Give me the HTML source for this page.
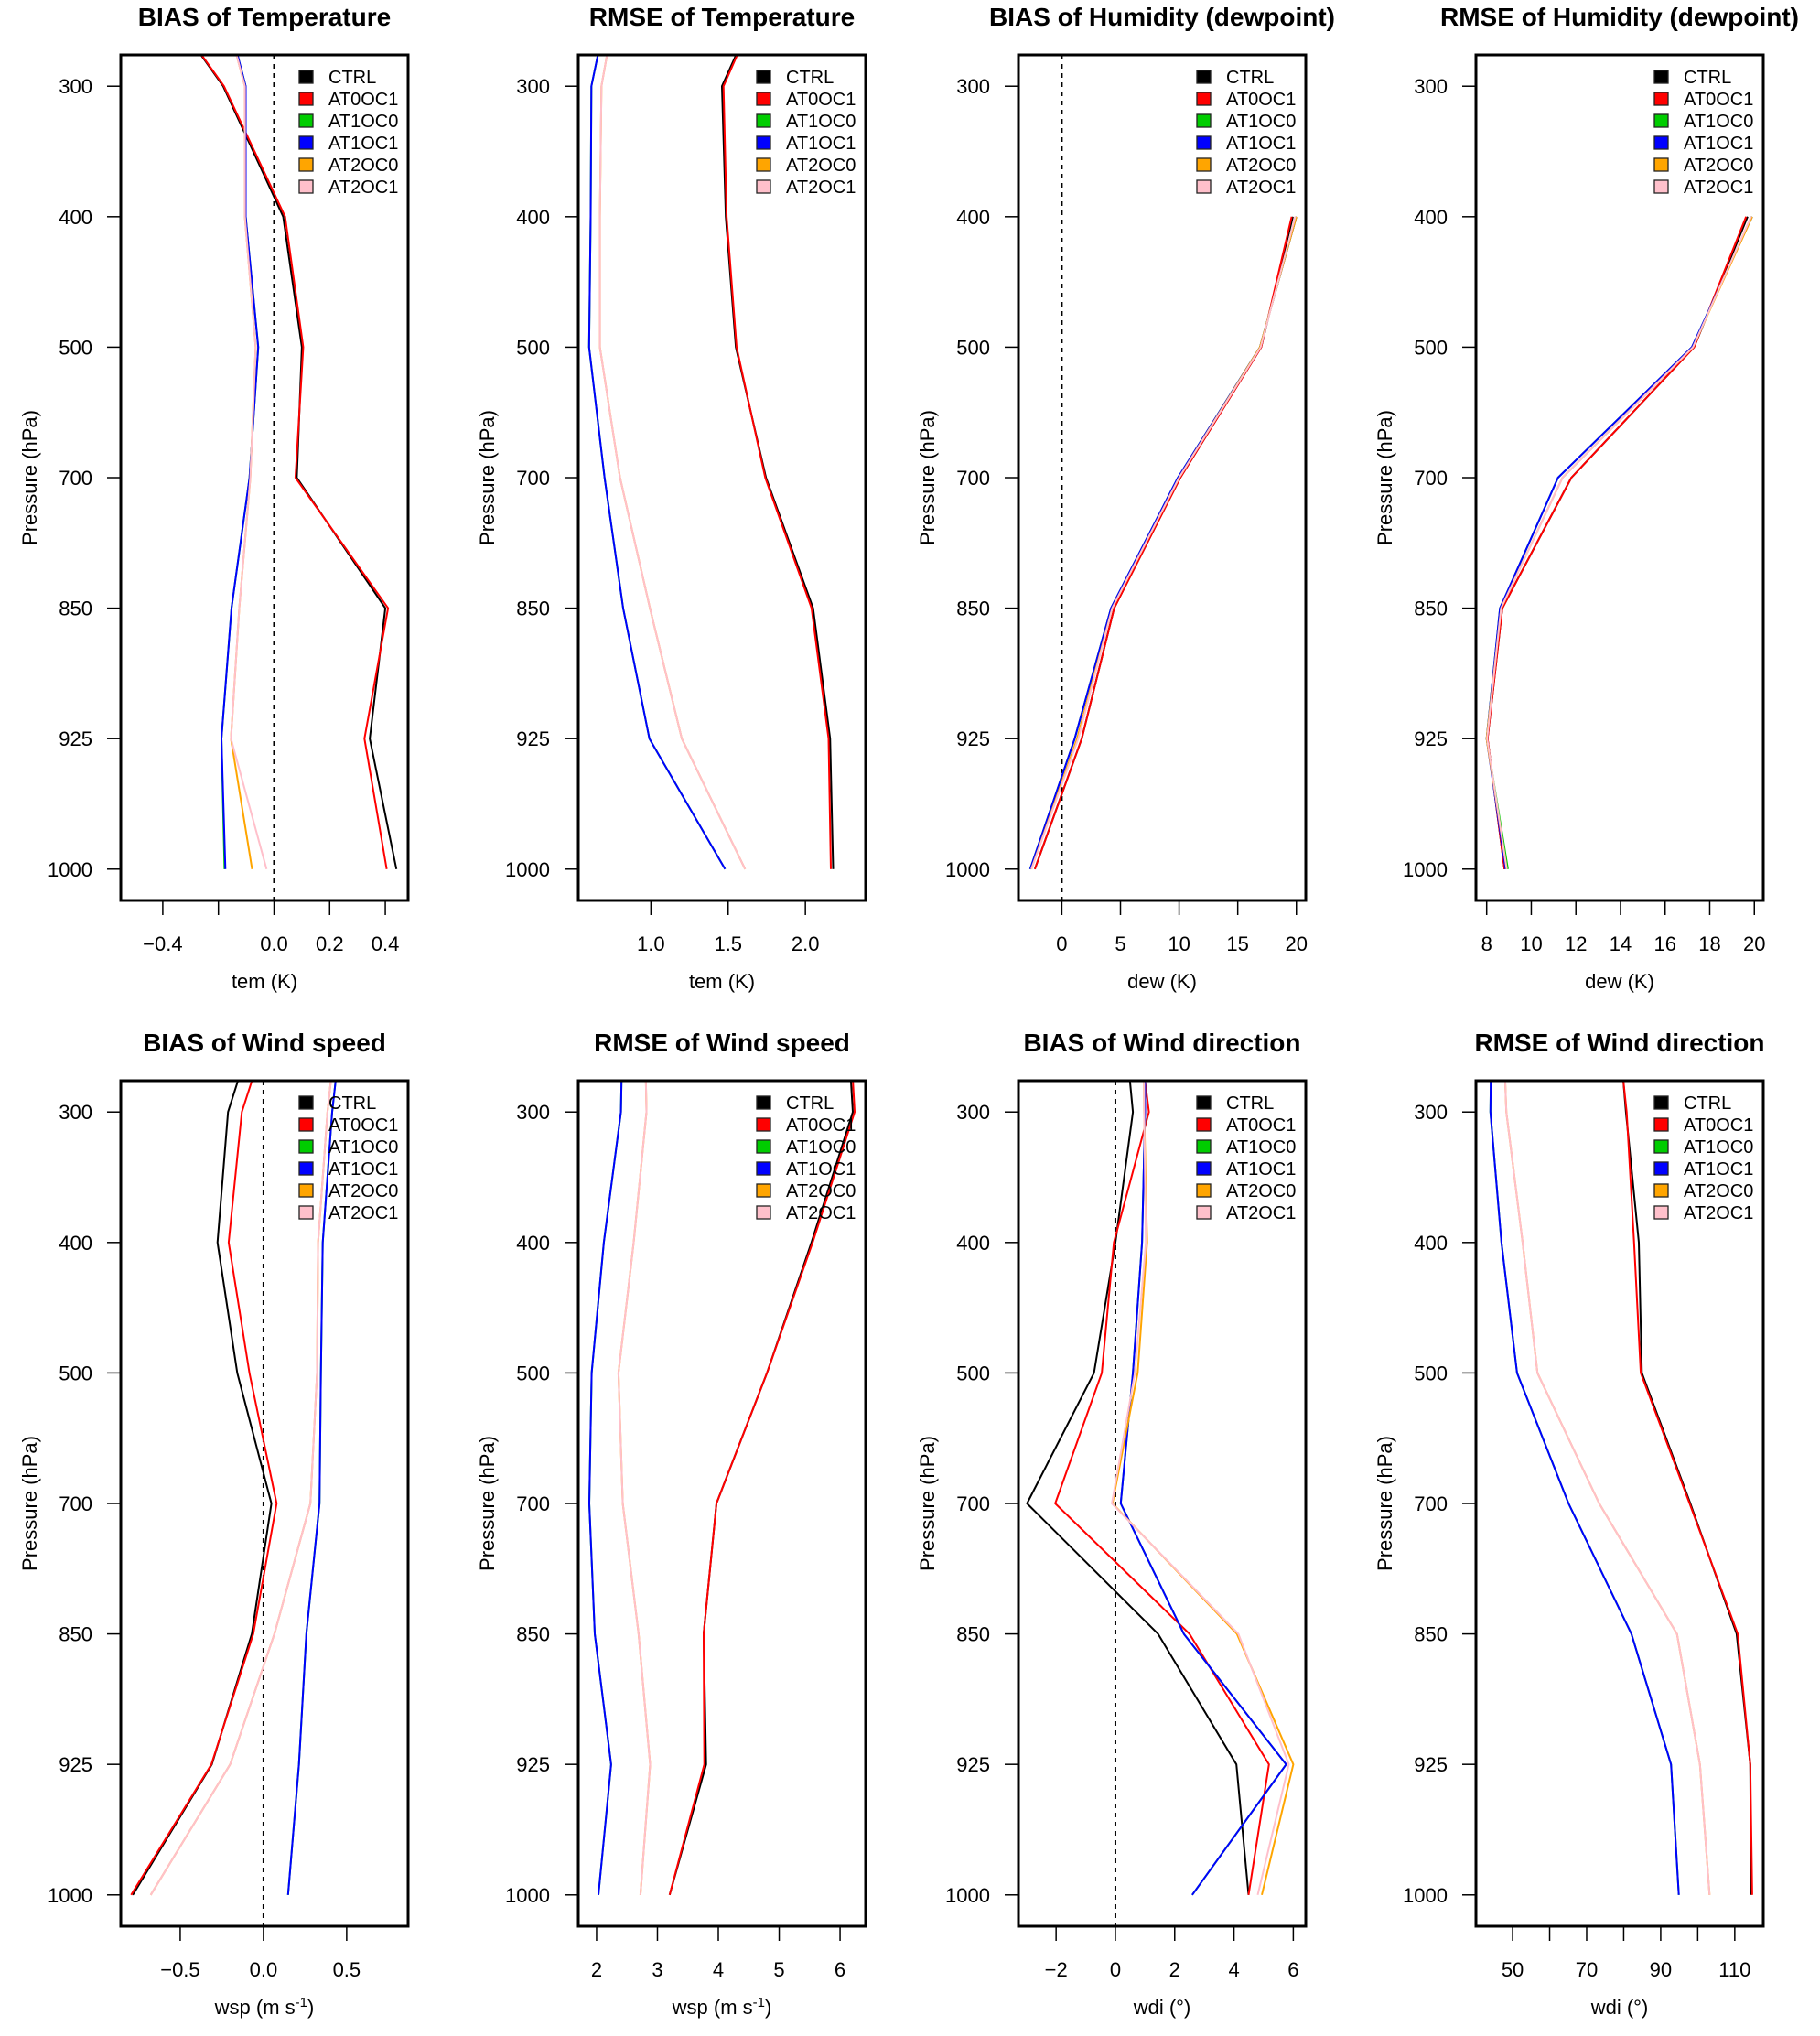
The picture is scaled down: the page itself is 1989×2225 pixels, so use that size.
<!DOCTYPE html>
<html><head><meta charset="utf-8"><title>Verification profiles</title>
<style>
html,body{margin:0;padding:0;background:#fff;}
svg{display:block;font-family:"Liberation Sans",sans-serif;}
</style></head>
<body>
<svg id="chart" width="1989" height="2225" viewBox="0 0 1989 2225" xmlns="http://www.w3.org/2000/svg"></svg>
<script>
// ---- shared data ----
const levels = [250, 300, 400, 500, 700, 850, 925, 1000];
const levelLabels = ["300", "400", "500", "700", "850", "925", "1000"];
const seriesNames = ["CTRL", "AT0OC1", "AT1OC0", "AT1OC1", "AT2OC0", "AT2OC1"];
const seriesColors = ["#000000", "#ff0000", "#00cd00", "#0000ff", "#ffa500", "#ffc0cb"];

// ---- BIAS of Temperature ----
const tBiasCTRL   = [-0.516, -0.183, 0.033, 0.100, 0.082, 0.400, 0.344, 0.440];
const tBiasAT0OC1 = [-0.516, -0.180, 0.040, 0.105, 0.077, 0.410, 0.325, 0.405];
const tBiasAT1OC0 = [-0.224, -0.102, -0.102, -0.057, -0.088, -0.153, -0.189, -0.178];
const tBiasAT1OC1 = [-0.224, -0.102, -0.102, -0.057, -0.088, -0.153, -0.189, -0.175];
const tBiasAT2OC0 = [-0.230, -0.105, -0.105, -0.066, -0.085, -0.125, -0.155, -0.079];
const tBiasAT2OC1 = [-0.230, -0.105, -0.105, -0.066, -0.085, -0.125, -0.155, -0.027];
const tBiasTicks = [-0.4, -0.2, 0.0, 0.2, 0.4];
const tBiasTickLabels = ["\u22120.4", "", "0.0", "0.2", "0.4"];

// ---- RMSE of Temperature ----
const tRmseCTRL   = [1.84, 1.46, 1.485, 1.55, 1.745, 2.05, 2.16, 2.18];
const tRmseAT0OC1 = [1.84, 1.47, 1.49, 1.555, 1.74, 2.04, 2.15, 2.165];
const tRmseAT1OC0 = [0.79, 0.615, 0.61, 0.60, 0.70, 0.82, 0.99, 1.48];
const tRmseAT1OC1 = [0.79, 0.615, 0.61, 0.60, 0.70, 0.82, 0.99, 1.48];
const tRmseAT2OC0 = [0.83, 0.68, 0.67, 0.67, 0.80, 0.994, 1.20, 1.61];
const tRmseAT2OC1 = [0.83, 0.68, 0.67, 0.67, 0.80, 0.994, 1.20, 1.61];
const tRmseTicks = [1.0, 1.5, 2.0];
const tRmseTickLabels = ["1.0", "1.5", "2.0"];

// ---- BIAS of Humidity ----
const dBiasCTRL   = [null, null, 19.7, 17.0, 10.1, 4.46, 1.7, -2.3];
const dBiasAT0OC1 = [null, null, 19.6, 17.0, 10.1, 4.46, 1.7, -2.3];
const dBiasAT1OC0 = [null, null, 20.0, 16.9, 9.9, 4.2, 1.1, -2.7];
const dBiasAT1OC1 = [null, null, 20.0, 16.9, 9.9, 4.2, 1.1, -2.7];
const dBiasAT2OC0 = [null, null, 20.0, 16.9, 10.0, 4.3, 1.3, -2.6];
const dBiasAT2OC1 = [null, null, 19.9, 16.95, 10.0, 4.3, 1.4, -2.6];
const dBiasTicks = [0, 5, 10, 15, 20];
const dBiasTickLabels = ["0", "5", "10", "15", "20"];

// ---- RMSE of Humidity ----
const dRmseCTRL   = [null, null, 19.7, 17.3, 11.8, 8.7, 8.04, 8.8];
const dRmseAT0OC1 = [null, null, 19.63, 17.3, 11.8, 8.7, 8.04, 8.8];
const dRmseAT1OC0 = [null, null, 19.9, 17.2, 11.2, 8.6, 8.0, 8.95];
const dRmseAT1OC1 = [null, null, 19.9, 17.2, 11.2, 8.6, 8.0, 8.85];
const dRmseAT2OC0 = [null, null, 19.9, 17.25, 11.4, 8.65, 8.0, 8.9];
const dRmseAT2OC1 = [null, null, 19.85, 17.25, 11.4, 8.65, 8.02, 8.9];
const dRmseTicks = [8, 10, 12, 14, 16, 18, 20];
const dRmseTickLabels = ["8", "10", "12", "14", "16", "18", "20"];

// ---- BIAS of Wind speed ----
const wBiasCTRL   = [0.036, -0.213, -0.276, -0.157, 0.048, -0.070, -0.310, -0.785];
const wBiasAT0OC1 = [0.123, -0.130, -0.209, -0.084, 0.079, -0.061, -0.313, -0.795];
const wBiasAT1OC0 = [0.50, 0.413, 0.356, 0.345, 0.337, 0.258, 0.213, 0.148];
const wBiasAT1OC1 = [0.50, 0.413, 0.356, 0.345, 0.337, 0.258, 0.213, 0.148];
const wBiasAT2OC0 = [0.47, 0.385, 0.328, 0.322, 0.282, 0.066, -0.200, -0.677];
const wBiasAT2OC1 = [0.47, 0.385, 0.328, 0.322, 0.282, 0.066, -0.200, -0.677];
const wBiasTicks = [-0.5, 0.0, 0.5];
const wBiasTickLabels = ["\u22120.5", "0.0", "0.5"];

// ---- RMSE of Wind speed ----
const wRmseCTRL   = [6.08, 6.21, 5.53, 4.80, 3.97, 3.76, 3.80, 3.20];
const wRmseAT0OC1 = [6.12, 6.24, 5.55, 4.80, 3.97, 3.76, 3.77, 3.20];
const wRmseAT1OC0 = [2.44, 2.40, 2.12, 1.92, 1.88, 1.97, 2.24, 2.03];
const wRmseAT1OC1 = [2.44, 2.40, 2.12, 1.92, 1.88, 1.97, 2.24, 2.03];
const wRmseAT2OC0 = [2.78, 2.82, 2.61, 2.36, 2.43, 2.69, 2.88, 2.72];
const wRmseAT2OC1 = [2.78, 2.82, 2.61, 2.36, 2.43, 2.69, 2.88, 2.72];
const wRmseTicks = [2, 3, 4, 5, 6];
const wRmseTickLabels = ["2", "3", "4", "5", "6"];

// ---- BIAS of Wind direction ----
const aBiasCTRL   = [0.17, 0.59, 0.0, -0.72, -2.98, 1.44, 4.08, 4.49];
const aBiasAT0OC1 = [0.59, 1.13, -0.05, -0.46, -2.03, 2.50, 5.18, 4.49];
const aBiasAT1OC0 = [1.0, 1.0, 0.90, 0.59, 0.18, 2.31, 5.76, 2.59];
const aBiasAT1OC1 = [1.0, 1.0, 0.90, 0.59, 0.18, 2.31, 5.76, 2.59];
const aBiasAT2OC0 = [0.95, 0.97, 1.07, 0.75, -0.10, 4.10, 6.00, 4.94];
const aBiasAT2OC1 = [0.95, 0.97, 1.03, 0.66, -0.12, 4.15, 5.85, 4.80];
const aBiasTicks = [-2, 0, 2, 4, 6];
const aBiasTickLabels = ["\u22122", "0", "2", "4", "6"];

// ---- RMSE of Wind direction ----
const aRmseCTRL   = [77.7, 80.6, 84.1, 84.9, 98.0, 110.5, 114.2, 114.4];
const aRmseAT0OC1 = [77.1, 80.8, 82.8, 84.6, 97.8, 110.8, 114.2, 114.7];
const aRmseAT1OC0 = [44.4, 44.0, 47.0, 51.2, 65.1, 82.1, 92.8, 94.9];
const aRmseAT1OC1 = [44.4, 44.0, 47.0, 51.2, 65.1, 82.1, 92.8, 94.9];
const aRmseAT2OC0 = [47.0, 48.3, 52.7, 56.7, 73.4, 94.4, 100.6, 103.2];
const aRmseAT2OC1 = [47.0, 48.3, 52.7, 56.7, 73.4, 94.4, 100.6, 103.2];
const aRmseTicks = [50, 60, 70, 80, 90, 100, 110];
const aRmseTickLabels = ["50", "", "70", "", "90", "", "110"];

const NS = "http://www.w3.org/2000/svg";
const svg = document.getElementById("chart");
function mk(tag, attrs, parent) {
  const e = document.createElementNS(NS, tag);
  for (const k in attrs) e.setAttribute(k, attrs[k]);
  (parent || svg).appendChild(e);
  return e;
}

const BOX_W = 314, BOX_H = 924;
const panels = [
  {key:"t-bias", title:"BIAS of Temperature", xlab:"tem (K)", col:0, row:0, x0:-0.551, x1:0.482, zero:true,
   series:[tBiasCTRL,tBiasAT0OC1,tBiasAT1OC0,tBiasAT1OC1,tBiasAT2OC0,tBiasAT2OC1], ticks:tBiasTicks, tl:tBiasTickLabels},
  {key:"t-rmse", title:"RMSE of Temperature", xlab:"tem (K)", col:1, row:0, x0:0.53, x1:2.39, zero:false,
   series:[tRmseCTRL,tRmseAT0OC1,tRmseAT1OC0,tRmseAT1OC1,tRmseAT2OC0,tRmseAT2OC1], ticks:tRmseTicks, tl:tRmseTickLabels},
  {key:"d-bias", title:"BIAS of Humidity (dewpoint)", xlab:"dew (K)", col:2, row:0, x0:-3.7, x1:20.8, zero:true,
   series:[dBiasCTRL,dBiasAT0OC1,dBiasAT1OC0,dBiasAT1OC1,dBiasAT2OC0,dBiasAT2OC1], ticks:dBiasTicks, tl:dBiasTickLabels},
  {key:"d-rmse", title:"RMSE of Humidity (dewpoint)", xlab:"dew (K)", col:3, row:0, x0:7.52, x1:20.4, zero:false,
   series:[dRmseCTRL,dRmseAT0OC1,dRmseAT1OC0,dRmseAT1OC1,dRmseAT2OC0,dRmseAT2OC1], ticks:dRmseTicks, tl:dRmseTickLabels},
  {key:"w-bias", title:"BIAS of Wind speed", xlab:"wsp", unit:true, col:0, row:1, x0:-0.857, x1:0.869, zero:true,
   series:[wBiasCTRL,wBiasAT0OC1,wBiasAT1OC0,wBiasAT1OC1,wBiasAT2OC0,wBiasAT2OC1], ticks:wBiasTicks, tl:wBiasTickLabels},
  {key:"w-rmse", title:"RMSE of Wind speed", xlab:"wsp", unit:true, col:1, row:1, x0:1.70, x1:6.42, zero:false,
   series:[wRmseCTRL,wRmseAT0OC1,wRmseAT1OC0,wRmseAT1OC1,wRmseAT2OC0,wRmseAT2OC1], ticks:wRmseTicks, tl:wRmseTickLabels},
  {key:"a-bias", title:"BIAS of Wind direction", xlab:"wdi  (\u00b0)", col:2, row:1, x0:-3.27, x1:6.42, zero:true,
   series:[aBiasCTRL,aBiasAT0OC1,aBiasAT1OC0,aBiasAT1OC1,aBiasAT2OC0,aBiasAT2OC1], ticks:aBiasTicks, tl:aBiasTickLabels},
  {key:"a-rmse", title:"RMSE of Wind direction", xlab:"wdi  (\u00b0)", col:3, row:1, x0:40.1, x1:117.7, zero:false,
   series:[aRmseCTRL,aRmseAT0OC1,aRmseAT1OC0,aRmseAT1OC1,aRmseAT2OC0,aRmseAT2OC1], ticks:aRmseTicks, tl:aRmseTickLabels}
];
const colLeft = [132, 632, 1113, 1613];
const rowTop = [60, 1181];

const defs = mk("defs", {});
panels.forEach(function(p, pi) {
  const L = colLeft[p.col], T = rowTop[p.row], R = L + BOX_W, B = T + BOX_H;
  const xs = function(v){ return L + (v - p.x0) / (p.x1 - p.x0) * BOX_W; };
  const step = BOX_H / 6.48;
  const ys = function(i){ return T + (0.24 + (i - 1)) * step; };

  const g = mk("g", {});
  
  

  const cp = mk("clipPath", {id: "clip" + pi}, defs);
  mk("rect", {x: L, y: T, width: BOX_W, height: BOX_H}, cp);

  const tt = mk("text", {x: L + BOX_W/2, y: T - 32, "text-anchor":"middle", "font-size":"28", "font-weight":"bold"}, g);
  tt.textContent = p.title;
  
  

  if (p.zero) {
    const zl = mk("line", {x1: xs(0), x2: xs(0), y1: T, y2: B, stroke:"#000", "stroke-width":"2", "stroke-dasharray":"5,5"}, g);
    
    
  }

  const lg = mk("g", {"clip-path": "url(#clip" + pi + ")"}, g);
  p.series.forEach(function(arr, si) {
    const pts = [];
    arr.forEach(function(v, i){ if (v !== null) pts.push(xs(v).toFixed(1) + "," + ys(i).toFixed(1)); });
    const pl = mk("polyline", {points: pts.join(" "), fill:"none", stroke: seriesColors[si], "stroke-width":"2", "stroke-linejoin":"round"}, lg);
    
    
  });

  const bx = mk("rect", {x: L, y: T, width: BOX_W, height: BOX_H, fill:"none", stroke:"#000", "stroke-width":"3"}, g);
  
  

  const ya = mk("g", {}, g);
  
  
  levelLabels.forEach(function(lab, k) {
    const y = ys(k + 1);
    mk("line", {x1: L - 15, x2: L, y1: y, y2: y, stroke:"#000", "stroke-width":"1.5"}, ya);
    const t = mk("text", {x: L - 31, y: y + 8, "text-anchor":"end", "font-size":"22"}, ya);
    t.textContent = lab;
    
    
  });
  const yl = mk("text", {x: 0, y: 0, "text-anchor":"middle", "font-size":"22", transform: "translate(" + (L - 92) + "," + (T + BOX_H/2) + ") rotate(-90)"}, g);
  yl.textContent = "Pressure (hPa)";
  
  

  const xa = mk("g", {}, g);
  
  
  p.ticks.forEach(function(v, k) {
    const x = xs(v);
    mk("line", {x1: x, x2: x, y1: B, y2: B + 16, stroke:"#000", "stroke-width":"1.5"}, xa);
    if (p.tl[k]) {
      const t = mk("text", {x: x, y: B + 55, "text-anchor":"middle", "font-size":"22"}, xa);
      t.textContent = p.tl[k];
      
      
    }
  });
  const xl = mk("text", {x: L + BOX_W/2, y: B + 96, "text-anchor":"middle", "font-size":"22"}, g);
  if (p.unit) {
    xl.textContent = p.xlab + " (m s";
    const sup = mk("tspan", {"font-size":"15", dy:"-8"}, xl);
    sup.textContent = "-1";
    const cl = mk("tspan", {dy:"8"}, xl);
    cl.textContent = ")";
  } else {
    xl.textContent = p.xlab;
  }
  
  

  const leg = mk("g", {}, g);
  
  
  seriesNames.forEach(function(n, si) {
    const y = T + 24 + si * 24;
    const e = mk("g", {}, leg);
    
    
    mk("rect", {x: R - 119, y: y - 7, width: 15, height: 14, fill: seriesColors[si], stroke:"#222", "stroke-width":"1.3"}, e);
    const t = mk("text", {x: R - 87, y: y + 7, "font-size":"20"}, e);
    t.textContent = n;
  });
});
</script>
</body></html>
